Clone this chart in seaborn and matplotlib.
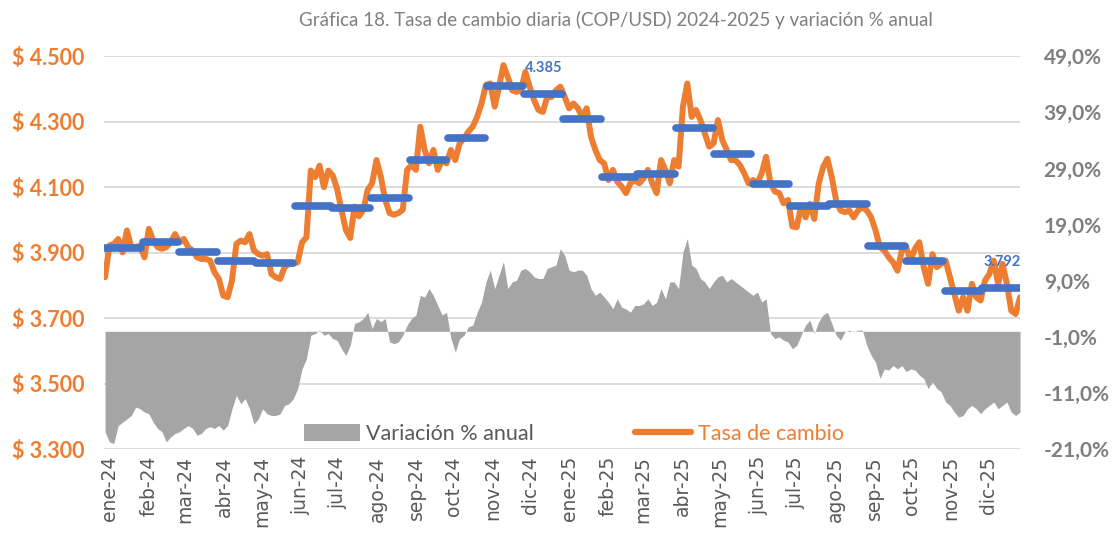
import pandas as pd
import numpy as np
import matplotlib.pyplot as plt
import matplotlib.transforms as mtransforms
import seaborn as sns
from matplotlib.patches import Patch
from matplotlib.lines import Line2D

# twice-weekly readings of the daily exchange rate (COP per USD), ene-24 .. dic-25
tasa = [3825, 3922, 3927, 3942, 3901, 3968, 3917, 3917, 3922, 3886,
        3973, 3937, 3917, 3912, 3917, 3932, 3957, 3932, 3942, 3917,
        3907, 3886, 3881, 3881, 3876, 3840, 3820, 3769, 3764, 3815,
        3927, 3937, 3932, 3957, 3907, 3896, 3891, 3896, 3835, 3825,
        3820, 3856, 3866, 3866, 3871, 3932, 3947, 4151, 4131, 4166,
        4100, 4151, 4136, 4095,
        4031, 3970, 3945, 4041, 4011, 4031, 4092, 4112, 4183, 4132,
        4061, 4021, 4016, 4021, 4031, 4153, 4168, 4153, 4285, 4214,
        4173, 4214, 4153, 4183, 4173, 4214, 4183, 4234, 4249, 4270,
        4285, 4315, 4356, 4412, 4417, 4346, 4407, 4473, 4437, 4396,
        4391, 4396, 4452, 4407, 4366, 4336, 4330, 4376, 4376, 4396,
        4407, 4376, 4341,
        4356, 4341, 4315, 4341, 4254, 4214, 4183, 4173, 4122, 4153,
        4117, 4102, 4082, 4112, 4122, 4112, 4127, 4153, 4112, 4082,
        4183, 4153, 4112, 4183, 4163, 4346, 4417, 4315, 4336, 4305,
        4264, 4224, 4234, 4305, 4244, 4214, 4183, 4183, 4168, 4143,
        4112, 4122, 4112, 4143, 4193, 4112, 4087, 4082, 4051, 4061,
        3980,
        3978, 4044, 4008, 4049, 4003, 4110, 4161, 4187, 4131, 4059,
        4029, 4024, 4029, 4008, 4029, 4039, 4029, 4008, 3968, 3917,
        3907, 3886, 3871, 3845, 3907, 3917, 3876, 3912, 3932, 3856,
        3805, 3896, 3856, 3866, 3876, 3825, 3774, 3723, 3764, 3723,
        3805, 3764, 3754, 3815, 3835, 3876, 3805, 3866, 3805, 3723,
        3713, 3764]

# annual % change, same dates
variacion = [-17.9, -19.7, -20.0, -16.8, -16.2, -15.6, -15.0, -13.5, -13.8, -14.4,
             -14.7, -16.2, -17.3, -17.9, -19.7, -18.8, -18.2, -17.9, -17.3, -16.8,
             -17.3, -18.5, -18.2, -17.3, -17.0, -17.3, -16.8, -17.6, -16.8, -13.8,
             -11.4, -12.9, -12.0, -13.8, -16.5, -15.6, -13.8, -14.7, -15.0, -15.0,
             -14.7, -13.2, -12.9, -12.0, -10.2, -6.7, -4.9, -0.7, -0.4, 0.2,
             -0.7, -0.4, -1.3, -1.6,
             -3.1, -4.3, -2.5, 1.4, 1.7, 2.3, 3.4, 0.5, 2.3, 1.7,
             2.3, -1.9, -2.2, -1.9, -0.7, 1.1, 2.3, 2.9, 6.4, 6.1,
             7.6, 6.4, 4.6, 2.9, 3.4, -1.3, -3.7, -1.3, -0.7, 0.8,
             1.1, 3.4, 5.2, 8.8, 10.9, 7.6, 10.0, 12.4, 7.6, 8.8,
             9.1, 10.9, 11.2, 10.6, 9.7, 9.4, 9.4, 11.2, 11.5, 11.8,
             14.7, 13.5, 10.9,
             10.6, 10.9, 10.9, 10.0, 7.6, 6.4, 7.0, 6.1, 5.2, 4.0,
             5.8, 4.3, 4.0, 3.4, 4.6, 4.6, 4.9, 5.8, 4.6, 5.2,
             7.6, 5.8, 8.8, 8.8, 7.6, 14.1, 16.5, 11.8, 11.2, 9.4,
             8.8, 7.6, 8.8, 9.7, 10.0, 8.8, 9.4, 8.8, 8.2, 7.6,
             7.0, 6.4, 7.0, 5.2, 5.8, -0.4, -1.3, -1.0, -1.6, -1.9,
             -3.1,
             -2.5, -0.7, 1.1, 2.0, -0.4, 1.7, 2.9, 3.4, 1.4, -0.7,
             -1.6, -0.1, 0.2, -0.1, 0.2, 0.2, -2.5, -4.3, -5.5, -8.4,
             -6.7, -6.9, -6.1, -6.7, -6.1, -7.2, -6.7, -6.9, -7.8, -8.4,
             -10.2, -9.0, -10.2, -10.8, -12.6, -13.2, -14.4, -15.3, -15.0, -13.8,
             -13.2, -13.8, -14.7, -13.8, -13.2, -12.6, -13.8, -13.2, -12.6, -14.4,
             -15.0, -14.4]

# monthly averages (blue dashes)
promedio_mes = [3915, 3932, 3902, 3875, 3868, 4043, 4037, 4067, 4183, 4250, 4409, 4385,
                4308, 4130, 4140, 4281, 4201, 4110, 4043, 4048, 3920, 3876, 3783, 3792]

meses = ['ene', 'feb', 'mar', 'abr', 'may', 'jun', 'jul', 'ago', 'sep', 'oct', 'nov', 'dic']
etiquetas_x = [f'{m}-24' for m in meses] + [f'{m}-25' for m in meses]
etiquetas_valor = {11: '4.385', 23: '3.792'}

fechas = pd.date_range('2024-01-02', '2025-12-31', periods=len(tasa))
df = pd.DataFrame({'fecha': fechas, 'tasa': tasa, 'variacion': variacion})
inicio_mes = pd.date_range('2024-01-01', periods=25, freq='MS')

NARANJA = '#ED7D31'
GRIS = '#A5A5A5'
AZUL = '#4472C4'

sns.set_style('white')
plt.rcParams['font.family'] = ['Lato', 'DejaVu Sans']

fig = plt.figure(figsize=(11.16, 5.36), dpi=100)
rect = [0.093, 0.162, 0.821, 0.733]
ax = fig.add_axes(rect)
ax2 = ax.twinx()
ax3 = fig.add_axes(rect, sharex=ax, sharey=ax)

# left axis: grid and labels
ax.set_ylim(3300, 4500)
ax.set_yticks(np.arange(3300, 4501, 200))
ax.set_yticklabels([f'$ {v:,.0f}'.replace(',', '.') for v in np.arange(3300, 4501, 200)],
                   color=NARANJA, fontsize=15.5, fontweight='bold')
ax.grid(axis='y', color='#D9D9D9', linewidth=1.3)
ax.set_xlim(pd.Timestamp('2024-01-01'), pd.Timestamp('2025-12-31'))
ax.set_xticks(inicio_mes[:-1])
ax.set_xticklabels(etiquetas_x, rotation=90, color='#595959', fontsize=13.5,
                   family=['DejaVu Sans'])
ax.tick_params(axis='x', length=0, pad=5)
ax.tick_params(axis='y', length=0, pad=14)
desplazar = mtransforms.ScaledTranslation(6 / 100, 0, fig.dpi_scale_trans)
for lbl in ax.get_xticklabels():
    lbl.set_transform(lbl.get_transform() + desplazar)
for s in ax.spines.values():
    s.set_visible(False)

# right axis: annual variation area
ax2.fill_between(df['fecha'], 0, df['variacion'], color=GRIS, linewidth=0)
ax2.set_ylim(-21, 49)
ax2.set_yticks(np.arange(-21, 50, 10))
ax2.set_yticklabels([f'{v:.1f}%'.replace('.', ',') for v in np.arange(-21, 50, 10)],
                    color='#7F7F7F', fontsize=15, fontweight='bold')
ax2.tick_params(axis='y', length=0, pad=17)
for s in ax2.spines.values():
    s.set_visible(False)
ax2.patch.set_visible(False)

# top layer: daily rate and monthly averages
ax3.patch.set_visible(False)
ax3.axis('off')
sns.lineplot(data=df, x='fecha', y='tasa', ax=ax3, color=NARANJA, linewidth=4.3)
for i, v in enumerate(promedio_mes):
    ax3.plot([inicio_mes[i], inicio_mes[i + 1] - pd.Timedelta(days=1)], [v, v],
             color=AZUL, linewidth=5.5, solid_capstyle='round')
for i, txt in etiquetas_valor.items():
    medio = inicio_mes[i] + (inicio_mes[i + 1] - inicio_mes[i]) / 2
    ax3.annotate(txt, (medio, promedio_mes[i]), xytext=(0, 19), textcoords='offset points',
                 ha='center', va='center', color=AZUL, fontsize=10.5, fontweight='bold')

fig.text(0.552, 0.962, 'Gráfica 18. Tasa de cambio diaria (COP/USD) 2024-2025 y variación % anual',
         ha='center', va='center', color='#7F7F7F', fontsize=13.5)

handles = [Patch(facecolor=GRIS, edgecolor='none'),
           Line2D([0], [0], color=NARANJA, linewidth=4.5)]
leg = fig.legend(handles, ['Variación % anual', 'Tasa de cambio'], loc='center',
                 bbox_to_anchor=(0.514, 0.19), ncol=2, frameon=False, fontsize=15.5,
                 handlelength=2.6, handleheight=0.85, columnspacing=4.7, handletextpad=0.3)
leg.get_texts()[0].set_color('#595959')
leg.get_texts()[1].set_color(NARANJA)

fig.savefig('out.png', dpi=100)
